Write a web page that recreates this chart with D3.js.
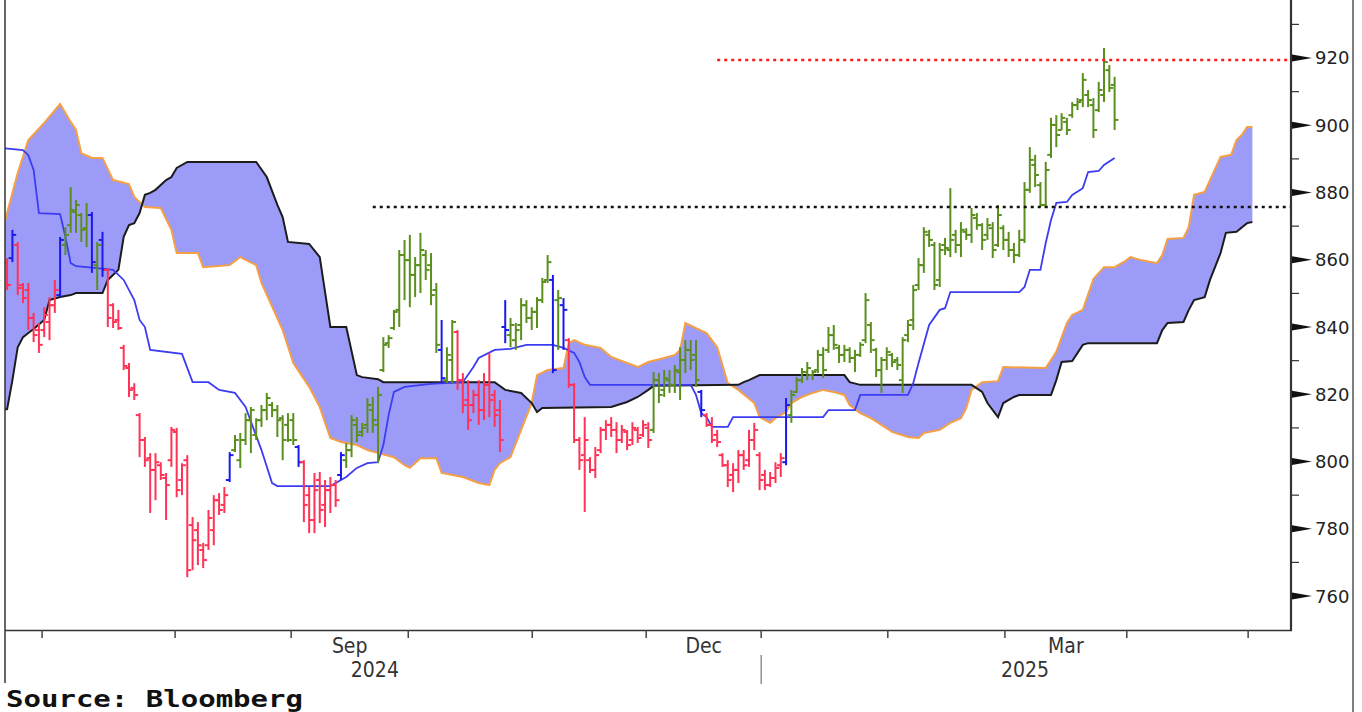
<!DOCTYPE html>
<html><head><meta charset="utf-8">
<script src="https://cdn.jsdelivr.net/npm/d3@7"></script>
<style>body{margin:0;background:#fff;} svg{display:block}</style>
</head><body>
<svg id="c" width="1362" height="712"></svg>
<script>
// ---- DATA (bar index = trading day; prices) ----
// daily bars: [open, high, low, close, tone]  tone: g = up trend, r = down trend, b = neutral
const ohlc = [
[859.3,860.5,851,852.5,"r"],[860.5,868.9,859.3,867.4,"b"],[864.4,865.3,849.5,851.6,"r"],[852.5,853.1,847.1,848.6,"r"],[851,853.1,839.1,842.7,"r"],[842.7,844.2,835.5,837.6,"r"],[839.1,841.2,832.3,834.7,"r"],[839.1,845.9,837,843.6,"r"],[841.5,848.9,836.1,846.5,"r"],[846.5,854,844.2,851,"r"],
[849.5,866.8,848.9,865.9,"b"],[864.4,869.7,861.4,867.4,"g"],[870.3,881.6,868,874.8,"g"],[874.2,877.8,868,876.3,"g"],[873.3,873.9,865.3,868.9,"g"],[869.4,876.9,863.8,873.3,"g"],[873.3,874.2,856.1,859.3,"b"],[858.4,865.3,851,864.4,"g"],[865.9,868.3,854.9,857,"b"],[857,857.5,840,842.7,"r"],
[846.5,847.1,839.7,841.5,"r"],[842.1,845.1,839.1,839.7,"r"],[833.8,834.7,827.2,828.4,"r"],[827.8,829.3,819.2,821.3,"r"],[821.9,823.3,818.3,819.8,"r"],[813.8,814.4,801.3,806.4,"r"],[806.4,807.3,798.4,800.4,"r"],[801,802.5,784.7,797.5,"r"],[797.5,802.5,788.5,799.8,"r"],[798.9,799.8,794.5,796,"r"],
[795.1,796.6,782.6,793,"r"],[800.4,810.3,798.4,809.4,"r"],[808.8,810,789.4,791.5,"r"],[794.5,799.5,790,798.9,"r"],[800.4,801.9,765.6,767.7,"r"],[781.1,783.5,767.7,776.6,"r"],[779.6,782,769.2,775.1,"r"],[773.7,775.8,768.3,770.7,"r"],[775.1,785.6,773.7,783.2,"r"],[779.6,790,775.1,788.5,"r"],
[788.5,790.6,784.1,785.6,"r"],[787.1,792.4,784.7,790,"r"],[794.5,802.8,793.9,801.9,"b"],[803.4,807.9,802.8,806.4,"g"],[800.4,808.5,798.1,806.4,"g"],[806.4,814.4,804.9,812.3,"g"],[812.3,816.2,802.5,815.3,"g"],[807.9,812.9,806.4,812.3,"g"],[812.3,816.8,810.3,815.3,"g"],[815.3,820.4,812.3,818.9,"g"],
[816.8,817.7,813.2,815.3,"g"],[815.3,816.8,807.3,812.3,"g"],[812.9,813.8,800.4,806.4,"g"],[810.9,814.4,805.8,806.4,"g"],[812.3,814.4,804.9,806.4,"g"],[804.3,804.9,798.4,799.8,"b"],[799.8,800.4,782,787.1,"r"],[790,792.4,778.7,782.6,"r"],[782.6,796.6,778.7,791.5,"r"],[794.5,796.9,781.7,785.6,"r"],
[787.1,794.5,780.5,791.5,"r"],[791.5,795.4,784.7,793,"r"],[793,794.5,786.5,788.5,"r"],[796,802.8,794.5,801.9,"b"],[800.4,805.5,798.1,803.4,"g"],[803.4,813.8,801.3,812.3,"g"],[810.9,813.2,805.8,807.9,"g"],[808.8,811.5,807.3,810,"g"],[810.9,818.9,808.5,816.8,"g"],[815.3,819.2,808.5,812.3,"g"],
[810.9,822.2,799.5,819.8,"g"],[827.2,837,826.6,834.7,"g"],[835.2,837.6,833.8,836.7,"g"],[839.7,845.1,839.1,844.5,"g"],[845.1,862.9,840,861.4,"g"],[861.4,865.9,848,859.9,"g"],[859.9,867.4,845.9,855.5,"g"],[855.5,860.8,848.9,858.4,"g"],[858.4,868,850.1,862.9,"g"],[861.4,862.9,854,857,"g"],
[858.4,862,846.5,849.5,"g"],[851,853.1,832.3,834.7,"g"],[833.2,842.1,823.3,824.8,"b"],[824.2,834,823.3,831.7,"g"],[830.2,842.1,823.3,841.5,"g"],[838.5,839.1,821.3,824.2,"r"],[824.2,826.3,814.4,816.8,"r"],[818.3,824.2,809.4,812.3,"r"],[816.8,821.3,814.4,819.8,"r"],[819.8,824.2,810.9,815.3,"r"],
[815.3,826.3,812.3,822.8,"r"],[822.8,832.3,813.2,818.3,"r"],[819.8,821.3,810.3,813.8,"r"],[815.3,818.3,802.8,806.4,"r"],[840,848,835.2,839.1,"b"],[837.6,842.7,834,840.6,"g"],[836.1,841.2,833.2,839.1,"g"],[840.6,848.6,836.1,846.5,"g"],[846.5,848,841.2,842.7,"g"],[842.7,845.9,839.1,844.5,"g"],
[844.5,848.9,839.7,848,"g"],[848,854.6,847.1,853.4,"g"],[854,861.4,853.1,859.3,"g"],[854,855.5,826.3,827.2,"b"],[848,851,833.2,848.6,"g"],[846.5,848.6,833.2,845.1,"b"],[836.1,836.7,821.9,822.8,"r"],[822.8,823.3,805.5,806.4,"r"],[806.4,807.3,797.5,800.4,"r"],[801.9,813.2,785,806.4,"r"],
[800.4,801.3,796.6,797.5,"r"],[797.5,804.3,795.1,801.9,"r"],[803.4,810.3,802.5,809.4,"r"],[809.4,812.3,806.4,810.9,"r"],[810.9,813.2,807.3,809.4,"r"],[809.4,811.7,802.5,806.4,"r"],[806.4,810.9,805.5,809.4,"r"],[808.8,809.4,803.4,804.9,"r"],[806.4,811.7,804.9,810,"r"],[809.4,810.3,805.5,807,"r"],
[807.9,812.3,807.3,810.9,"r"],[810,811.7,804,806.4,"r"],[809.4,826.6,808.5,824.2,"g"],[824.2,826.3,817.4,819.8,"g"],[821.3,827.2,819.2,824.8,"g"],[824.2,827.2,820.4,822.8,"g"],[822.8,828.7,820.4,827.2,"g"],[826.6,834,818.3,830.2,"g"],[830.2,836.1,826.3,833.2,"g"],[833.2,836.1,827.2,830.2,"g"],
[831.7,836.1,822.2,824.2,"g"],[820.7,821.3,813.2,815.3,"b"],[813.8,814.4,810.3,810.9,"r"],[810.9,813.2,805.5,806.4,"r"],[807.9,809.4,804.3,805.8,"r"],[801.9,802.5,798.4,798.9,"r"],[798.9,800.4,792.4,794.5,"r"],[796,799.5,790.9,797.5,"r"],[797.5,803.4,793.6,801.9,"r"],[801.9,803.4,797.5,798.9,"r"],
[800.4,809.4,798.4,806.4,"r"],[806.4,811.5,803.4,809.4,"r"],[801.9,802.8,791.5,794.5,"r"],[796,797.5,791.5,793,"r"],[793,796.9,792.4,795.1,"r"],[795.1,799.8,793.6,798.1,"r"],[798.9,802.5,795.4,801,"r"],[799.8,818.9,798.9,816.8,"b"],[813.8,821.3,811.5,819.8,"g"],[820.7,825.1,820.4,824.2,"g"],
[824.2,827.8,823.3,826.6,"g"],[826.6,829.6,824.2,827.8,"g"],[825.7,827.2,824.2,826.6,"g"],[827.2,833.2,826.3,831.7,"g"],[831.7,834,824.8,827.2,"g"],[833.2,840,832.3,837.6,"g"],[837.6,840.6,833.2,834.7,"g"],[833.8,834.7,829.3,831.7,"g"],[831.7,834.7,829.6,833.2,"g"],[833.2,834,829.3,830.8,"g"],
[830.8,833.2,826.6,831.7,"g"],[831.7,835.5,831.1,834.7,"g"],[836.1,850.1,835.2,848,"g"],[840.6,841.5,832.3,836.1,"g"],[833.2,833.8,825.1,827.2,"g"],[827.2,831.1,820.4,830.2,"g"],[830.2,834,827.2,832.6,"g"],[831.7,832.3,828.1,829.6,"g"],[830.2,831.1,827.2,828.7,"g"],[824.2,837,820.4,836.1,"g"],
[837.6,842.1,835.5,840.6,"g"],[842.1,852.5,839.1,851,"g"],[852.5,860.5,851,858.4,"g"],[858.4,869.7,856.1,868.3,"g"],[867.4,868.9,863.8,865.9,"g"],[864.4,865.3,851,852.5,"g"],[854,865,851.9,862.9,"g"],[864.4,866.5,861.4,863.5,"g"],[862.9,881.3,860.8,865.9,"g"],[867.4,868.9,862,864.4,"g"],
[864.4,871.2,860.8,868.9,"g"],[868.3,869.4,865.9,867.4,"g"],[867.4,875.4,865,873.3,"g"],[872.4,873.9,868.9,870.3,"g"],[870.3,870.9,862.9,865.9,"g"],[867.4,872.4,865.9,870.3,"g"],[869.4,871.2,860.5,862.9,"g"],[864.4,876.3,863.8,873.3,"g"],[869.4,870.3,862.9,865.9,"g"],[865.9,868.3,860.8,862.9,"g"],
[862.9,865,859,861.4,"g"],[861.4,868.9,860.8,865.9,"g"],[865.9,883.1,865,880.8,"g"],[880.8,893.5,879.9,889.7,"g"],[888.2,891.2,881.6,885.2,"g"],[882.2,883.1,875.7,876.3,"g"],[876.3,889.1,875.4,886.7,"g"],[891.2,902.2,890.3,900.1,"g"],[900.1,903,893.5,897.1,"g"],[898.6,903.6,898.6,902.2,"g"],
[901,902.2,897.1,898.6,"g"],[903,906.9,902.2,906,"g"],[906,908.1,904.5,906.9,"g"],[907.5,915.5,905.4,913.5,"g"],[909,910.5,905.4,907.5,"g"],[906,908.1,896.2,898.6,"g"],[904.5,912.9,903.9,910.5,"g"],[909,923,906.9,918.8,"g"],[916.4,917.9,909.9,911.1,"g"],[912,914.4,898.6,901.6,"g"]
];
// Ichimoku leading span A (orange) and span B (black): [bar index, price]
const spanA = [[-1,868],[2,885.8],[4,895.6],[7,900.7],[10,906.3],[12,901],[13,898.6],[14,891.7],[16,890.3],[18,890.3],[20,883.7],[23,882.5],[24,878.7],[26,875.7],[29,875.4],[31,868.9],[32,862],[36,862],[37,857.8],[42,858.4],[44,860.8],[47,858.4],[48,853.1],[52,839.1],[54,829.3],[57,822.2],[59,816.2],[61,807],[63,805.8],[66,804.9],[68,803.4],[70,802.5],[73,801.3],[75,798.9],[76,798.1],[78,801],[81,801],[82,796.6],[86,795.4],[89,793.6],[91,793],[92,797.5],[93,799.5],[95,801.3],[97,809.4],[99,817.4],[100,825.7],[102,827.2],[105,827.8],[106,835.2],[107,836.1],[109,834.7],[112,833.8],[114,831.1],[117,829.3],[119,828.1],[121,829.6],[124,830.8],[126,831.7],[127,833.2],[128,841.2],[130,839.7],[132,838.2],[134,834],[136,823.3],[138,821.3],[141,817.4],[142,813.2],[144,811.5],[145,812.9],[147,814.7],[148,817.4],[150,819.2],[152,820.4],[154,821.3],[156,820.7],[158,819.8],[159,816.8],[161,814.4],[163,812.9],[165,810.9],[167,808.8],[170,807.3],[172,807],[173,808.5],[176,809.4],[178,811.5],[180,812.9],[181,815.9],[182,821.3],[184,823.6],[187,823.9],[188,828.1],[196,827.8],[198,832.6],[200,841.2],[201,843.6],[203,845.1],[205,854.3],[207,857.8],[209,857.8],[211,859.6],[212,860.8],[214,859.9],[217,859],[218,861.4],[219,866.2],[222,866.5],[223,869.7],[224,879.3],[226,880.2],[227,883.7],[229,890.6],[231,891.2],[232,895.6],[233,897.1],[234,899.5],[235,899.5]];
const spanB = [[-1,815.3],[0,815.6],[1,824.2],[2,834],[3,837],[4,838.2],[5,839.4],[7,842.1],[8,848],[10,848.9],[12,849.5],[13,850.1],[18,850.1],[19,854],[21,857],[22,866.8],[23,870.3],[24,870.9],[25,873.9],[26,879.3],[27,879.9],[28,880.8],[30,883.7],[31,884.6],[32,887.3],[34,889.1],[47,889.1],[49,884.6],[51,876.3],[52,872.7],[53,865.3],[57,864.7],[59,860.8],[61,840],[64,840],[66,825.7],[67,825.1],[70,824.5],[71,823.6],[92,823.6],[94,821.3],[97,820.4],[99,817.4],[100,814.7],[101,815.9],[114,816.2],[117,817.7],[119,819.2],[121,821.3],[122,822.5],[138,822.8],[139,823.6],[140,824.2],[142,825.7],[158,825.7],[159,823.6],[161,822.8],[182,822.8],[184,820.7],[185,817.4],[187,813.2],[188,817.4],[190,819.2],[191,819.8],[197,819.8],[198,824.2],[199,829.6],[201,829.9],[203,834.7],[204,835.2],[217,835.2],[218,839.1],[219,841.2],[222,841.5],[223,845.1],[224,848],[226,848.9],[227,854],[229,862],[230,868],[232,868.3],[234,870.9],[235,871.2]];
// base line (blue)
const kijun = [[-1,893.2],[3,892.6],[4,891.1],[5,886.7],[6,873.9],[10,873.6],[11,866.8],[12,859],[13,858.1],[17,857.5],[20,857],[22,854],[24,848],[25,842.1],[26,840],[27,833.2],[33,832],[35,823.6],[38,823.6],[40,821.3],[43,820.4],[45,816.2],[48,803.4],[50,793.6],[51,792.7],[61,792.7],[63,794.5],[64,795.4],[66,798.1],[68,799.5],[70,799.8],[71,804.9],[72,813.8],[73,820.7],[75,822.2],[80,823.1],[86,823.6],[88,828.1],[89,830.8],[92,833.2],[95,833.5],[98,834.7],[103,834.7],[105,833.8],[107,832.3],[108,829.6],[109,825.1],[110,822.8],[129,822.8],[130,819.8],[131,814.4],[132,813.2],[133,810.3],[136,810.3],[137,813.2],[154,813.2],[155,815.3],[160,815.3],[161,819.8],[170,819.8],[171,823.3],[172,829.3],[174,840.6],[176,845.1],[177,845.6],[178,850.4],[191,850.4],[192,851.9],[193,857],[195,857],[196,865],[197,871.8],[198,876.9],[200,877.2],[201,879.3],[203,881.3],[204,886.1],[206,886.4],[207,888.2],[209,890.3]];
// horizontal dotted levels: [start index, price]
const levels = [{from:134, price:919.4, color:"#ff1a1a"}, {from:69, price:875.7, color:"#111"}];
const priceTicks = [760,780,800,820,840,860,880,900,920];
const minorTicks = [770,790,810,830,850,870,890,910,930];
// first trading day of each month (Jul 2024 .. May 2025) as bar index
const monthStarts = [6.6,31.7,53.6,75.7,99.1,120.6,142.3,166.2,188.3,211.3,234.2];
const monthLabels = [{text:"Sep", a:2, b:3},{text:"Dec", a:5, b:6},{text:"Mar", a:8, b:9}];
const yearLabels = [{text:"2024", at:69.4},{text:"2025", at:192.1}];
const yearBreak = 142.3;
const source = "Source: Bloomberg";

// ---- CHART ----
const svg = d3.select("#c");
const L = 5, R = 1290, T = 0, B = 630;
const xs = d3.scaleLinear().domain([-0.4, 242.1]).range([L, R]);
const ys = d3.scaleLinear().domain([749.9, 937.25]).range([B, T]);
const toneColor = {g:"#5a8f1e", r:"#ff3355", b:"#1a1aee"};

svg.append("defs").append("clipPath").attr("id","clip")
  .append("rect").attr("x",L).attr("y",T).attr("width",R-L).attr("height",B-T);
const g = svg.append("g").attr("clip-path","url(#clip)");

const line = d3.line().x(d=>xs(d[0])).y(d=>ys(d[1]));
// cloud fill
g.append("path").attr("d", line(spanA.concat(spanB.slice().reverse())) + "Z")
  .attr("fill","#9c9cf8").attr("stroke","none");
g.append("path").attr("d", line(spanA)).attr("fill","none").attr("stroke","#f5a043").attr("stroke-width",2);
g.append("path").attr("d", line(spanB)).attr("fill","none").attr("stroke","#1c1c1c").attr("stroke-width",2);
g.append("path").attr("d", line(kijun)).attr("fill","none").attr("stroke","#3c3cf2").attr("stroke-width",1.8);

// bars
const bars = g.append("g").attr("stroke-width",2).attr("fill","none");
ohlc.forEach((d,i)=>{
  const x = xs(i), c = toneColor[d[4]];
  const bg = bars.append("g").attr("stroke", c);
  bg.append("line").attr("x1",x).attr("x2",x).attr("y1",ys(d[1])).attr("y2",ys(d[2]));
  bg.append("line").attr("x1",x-3.8).attr("x2",x).attr("y1",ys(d[0])).attr("y2",ys(d[0]));
  bg.append("line").attr("x1",x).attr("x2",x+3.8).attr("y1",ys(d[3])).attr("y2",ys(d[3]));
});

// dotted levels
levels.forEach(l=>{
  g.append("line").attr("x1",xs(l.from)).attr("x2",R).attr("y1",ys(l.price)).attr("y2",ys(l.price))
   .attr("stroke",l.color).attr("stroke-width",2.6).attr("stroke-dasharray","3,4");
});

// frame
svg.append("line").attr("x1",L).attr("x2",L).attr("y1",0).attr("y2",683).attr("stroke","#333").attr("stroke-width",1.5);
svg.append("line").attr("x1",L).attr("x2",R+2).attr("y1",B+0.5).attr("y2",B+0.5).attr("stroke","#333").attr("stroke-width",1.5);
svg.append("line").attr("x1",R+1).attr("x2",R+1).attr("y1",0).attr("y2",B+1).attr("stroke","#333").attr("stroke-width",2.2);
svg.append("line").attr("x1",1353).attr("x2",1353).attr("y1",0).attr("y2",712).attr("stroke","#555").attr("stroke-width",1.5);

// y axis
const ya = svg.append("g");
priceTicks.forEach(p=>{
  const y = ys(p);
  ya.append("path").attr("d",`M${R+2},${y-3.5}L${R+22},${y}L${R+2},${y+3.5}Z`).attr("fill","#111");
  ya.append("text").attr("x",R+25).attr("y",y).attr("dy","0.36em").text(p)
    .attr("font-family","DejaVu Sans, sans-serif").attr("font-size",18).attr("fill","#222");
});
minorTicks.forEach(p=>{
  const y = ys(p);
  if (y < 2 || y > B-2) return;
  ya.append("line").attr("x1",R+2).attr("x2",R+9).attr("y1",y).attr("y2",y).attr("stroke","#333").attr("stroke-width",1.2);
});

// x axis
const xa = svg.append("g").attr("font-family","DejaVu Sans Condensed, Liberation Sans Narrow, DejaVu Sans, sans-serif")
  .attr("font-size",21).attr("fill","#333").attr("text-anchor","middle");
monthStarts.forEach(m=>{
  xa.append("line").attr("x1",xs(m)).attr("x2",xs(m)).attr("y1",B).attr("y2",B+8).attr("stroke","#444").attr("stroke-width",1.5);
});
monthLabels.forEach(m=>{
  xa.append("text").attr("x",xs((monthStarts[m.a]+monthStarts[m.b])/2)).attr("y",653).text(m.text);
});
yearLabels.forEach(yl=>{
  xa.append("text").attr("x",xs(yl.at)).attr("y",677).text(yl.text);
});
xa.append("line").attr("x1",xs(yearBreak)).attr("x2",xs(yearBreak)).attr("y1",655).attr("y2",684).attr("stroke","#777").attr("stroke-width",1.2);

svg.append("text").attr("x",6).attr("y",707).text(source)
  .attr("font-family","DejaVu Sans Mono, monospace").attr("font-weight","bold").attr("font-size",23)
  .attr("textLength",297).attr("lengthAdjust","spacingAndGlyphs").attr("fill","#111");
</script>
</body></html>
